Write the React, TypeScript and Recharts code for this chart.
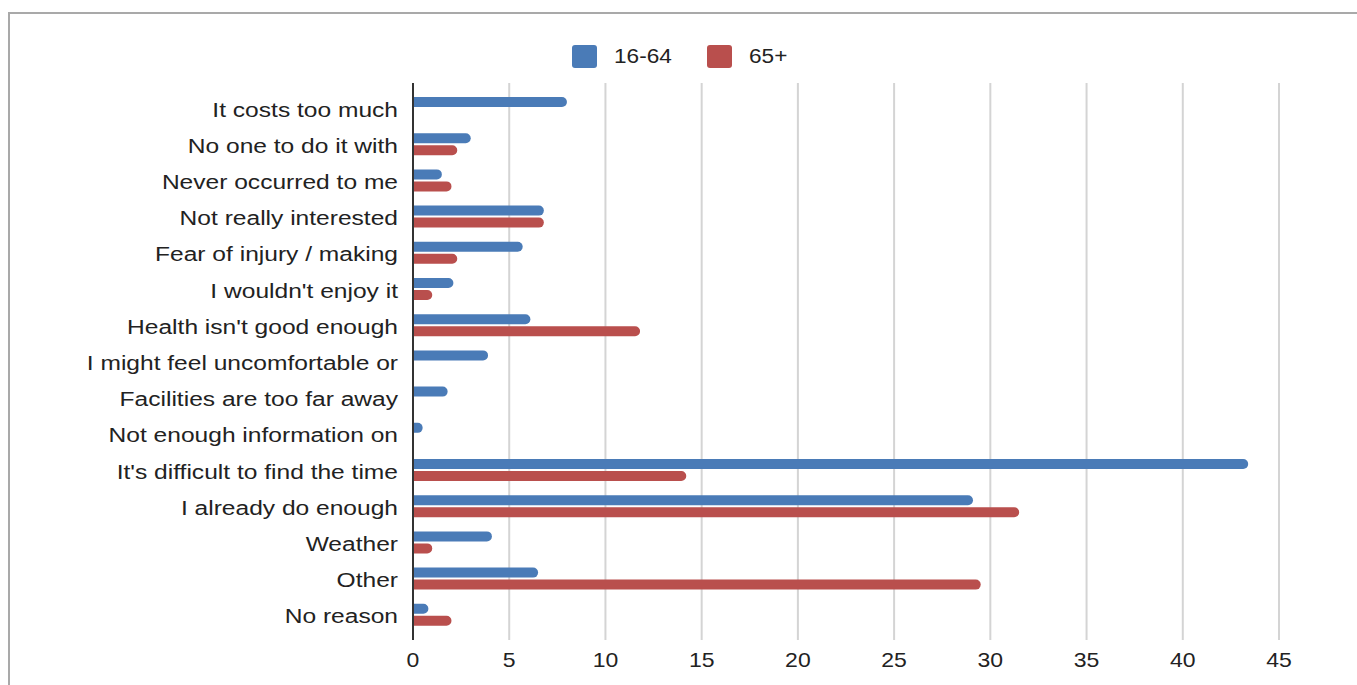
import { Bar, BarChart, CartesianGrid, XAxis, YAxis } from 'recharts';

// Reasons for not doing more sport, by age group (horizontal bars).

const categories = [
  'It costs too much',
  'No one to do it with',
  'Never occurred to me',
  'Not really interested',
  'Fear of injury / making',
  "I wouldn't enjoy it",
  "Health isn't good enough",
  'I might feel uncomfortable or',
  'Facilities are too far away',
  'Not enough information on',
  "It's difficult to find the time",
  'I already do enough',
  'Weather',
  'Other',
  'No reason',
];
const age16to64 = [8.0, 3.0, 1.5, 6.8, 5.7, 2.1, 6.1, 3.9, 1.8, 0.5, 43.4, 29.1, 4.1, 6.5, 0.8];
const age65plus = [0, 2.3, 2.0, 6.8, 2.3, 1.0, 11.8, 0, 0, 0, 14.2, 31.5, 1.0, 29.5, 2.0];
const xTicks = [0, 5, 10, 15, 20, 25, 30, 35, 40, 45];
const seriesNames = ['16-64', '65+'];

const BLUE = '#4a7bb7';
const RED = '#b94f4d';
const FONT = '"Liberation Sans", Arial, sans-serif';

const data = categories.map((name, i) => ({
  name,
  young: age16to64[i],
  old: age65plus[i],
}));

function CategoryTick({ x, y, payload }: any) {
  return (
    <g transform={`translate(${x},${y}) scale(1.17,1)`}>
      <text x={0} y={0} dy={8.5} textAnchor="end" fontSize={21} fill="#222" fontFamily={FONT}>
        {payload.value}
      </text>
    </g>
  );
}

function ValueTick({ x, y, payload }: any) {
  return (
    <g transform={`translate(${x},${y}) scale(1.15,1)`}>
      <text x={0} y={0} dy={27} textAnchor="middle" fontSize={20} fill="#222" fontFamily={FONT}>
        {payload.value}
      </text>
    </g>
  );
}

function LegendItem({ color, label, width, last }: { color: string; label: string; width: number; last?: boolean }) {
  return (
    <div style={{ display: 'flex', alignItems: 'center', marginRight: last ? 0 : 35 }}>
      <span style={{ width: 25, height: 23, background: color, borderRadius: 3, marginRight: 17 }} />
      <span
        style={{
          display: 'inline-block',
          width,
          fontSize: 20,
          lineHeight: '23px',
          color: '#222',
          whiteSpace: 'nowrap',
          transform: 'scaleX(1.13)',
          transformOrigin: 'left center',
        }}
      >
        {label}
      </span>
    </div>
  );
}

export default function App() {
  return (
    <div style={{ position: 'absolute', left: 0, top: 0, width: 1357, height: 685, background: '#fff', overflow: 'hidden' }}>
      <div
        style={{
          position: 'absolute',
          left: 8,
          top: 12,
          right: -4,
          bottom: -4,
          borderLeft: '2px solid #a9a9a9',
          borderTop: '2px solid #a9a9a9',
        }}
      />
      <div
        style={{
          position: 'absolute',
          top: 45,
          left: 0,
          width: 1357,
          display: 'flex',
          justifyContent: 'center',
          fontFamily: FONT,
        }}
      >
        <LegendItem color={BLUE} label={seriesNames[0]} width={58} />
        <LegendItem color={RED} label={seriesNames[1]} width={37} last />
      </div>
      <BarChart
        width={1357}
        height={685}
        data={data}
        layout="vertical"
        margin={{ top: 83, right: 78, bottom: 0, left: 13 }}
        barSize={10}
        barGap={2}
        style={{ position: 'absolute', left: 0, top: 0 }}
      >
        <CartesianGrid horizontal={false} stroke="#d4d4d4" strokeWidth={2} />
        <XAxis
          type="number"
          domain={[0, 45]}
          ticks={xTicks}
          axisLine={false}
          tickLine={false}
          tickSize={0}
          tickMargin={0}
          height={45}
          tick={<ValueTick />}
          interval={0}
        />
        <YAxis
          type="category"
          dataKey="name"
          width={400}
          padding={{ top: 7, bottom: 7 }}
          axisLine={{ stroke: '#333', strokeWidth: 2 }}
          tickLine={false}
          tickSize={0}
          tickMargin={15}
          tick={<CategoryTick />}
          interval={0}
        />
        <Bar dataKey="young" name={seriesNames[0]} fill={BLUE} radius={[0, 5, 5, 0]} isAnimationActive={false} />
        <Bar dataKey="old" name={seriesNames[1]} fill={RED} radius={[0, 5, 5, 0]} isAnimationActive={false} />
      </BarChart>
    </div>
  );
}
